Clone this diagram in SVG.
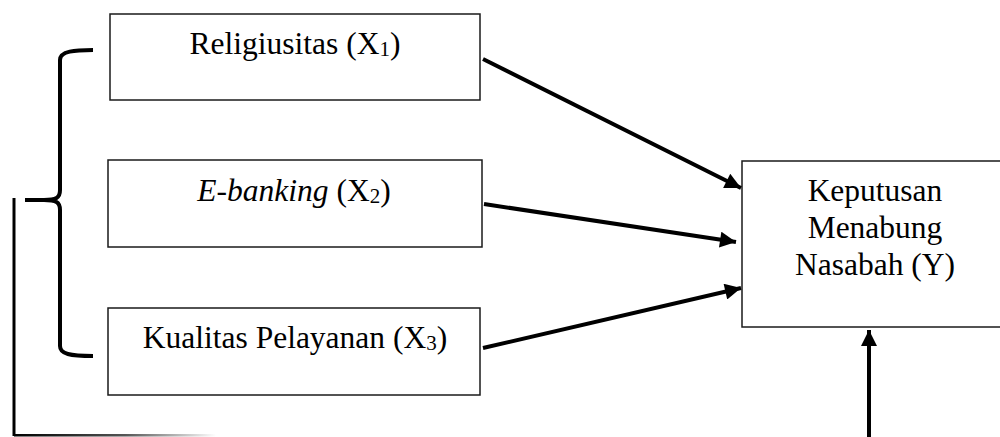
<svg xmlns="http://www.w3.org/2000/svg" width="1000" height="437" viewBox="0 0 1000 437">
  <style>
    .box { fill: #ffffff; stroke: #1a1a1a; stroke-width: 1.5; }
    .lbl { font-family: "Liberation Serif", "Times New Roman", "DejaVu Serif", serif; font-size: 31.5px; fill: #000000; text-anchor: middle; }
    .sub { font-size: 21px; }
    .conn { stroke: #000000; stroke-width: 4; fill: none; }
    .brace { stroke: #000000; stroke-width: 4; fill: none; stroke-linecap: butt; }
  </style>
  <defs>
    <marker id="arrow" viewBox="0 0 10 10" refX="10" refY="5" markerWidth="4.6" markerHeight="4" markerUnits="strokeWidth" orient="auto">
      <path d="M0,0 L10,5 L0,10 Z" fill="#000000"/>
    </marker>
    <linearGradient id="fade" x1="0" y1="0" x2="1" y2="0">
      <stop offset="0" stop-color="#000000"/>
      <stop offset="0.55" stop-color="#555555"/>
      <stop offset="1" stop-color="#ffffff"/>
    </linearGradient>
  </defs>

  <g id="x1">
    <rect class="box" x="110" y="14" width="370" height="86"/>
    <text class="lbl" x="295" y="54">Religiusitas (X<tspan class="sub" dy="2">1</tspan><tspan dy="-2">)</tspan></text>
  </g>

  <g id="x2">
    <rect class="box" x="108" y="160" width="374" height="87"/>
    <text class="lbl" x="294" y="201"><tspan font-style="italic">E-banking</tspan> (X<tspan class="sub" dy="2">2</tspan><tspan dy="-2">)</tspan></text>
  </g>

  <g id="x3">
    <rect class="box" x="108" y="308" width="372" height="87"/>
    <text class="lbl" x="295" y="348">Kualitas Pelayanan (X<tspan class="sub" dy="2">3</tspan><tspan dy="-2">)</tspan></text>
  </g>

  <g id="y">
    <rect class="box" x="742" y="161" width="270" height="166"/>
    <text class="lbl" x="875" y="201">Keputusan</text>
    <text class="lbl" x="875" y="238">Menabung</text>
    <text class="lbl" x="875" y="275">Nasabah (Y)</text>
  </g>

  <g id="connectors">
    <line class="conn" x1="483" y1="59" x2="741" y2="188" marker-end="url(#arrow)"/>
    <line class="conn" x1="484" y1="204" x2="736" y2="242" marker-end="url(#arrow)"/>
    <line class="conn" x1="483" y1="348" x2="741" y2="288" marker-end="url(#arrow)"/>
    <line class="conn" x1="869" y1="437" x2="869" y2="330" marker-end="url(#arrow)"/>
    <!-- brace grouping the three variables -->
    <path class="brace" d="M93,50 C75,50 60,51 60,60 L60,190 C60,198 56,200 44,200 L25,200 M44,200 C56,200 60,202 60,210 L60,346 C60,354 70,356 93,356"/>
    <!-- joint path from the brace down and across the bottom -->
    <line x1="14" y1="198" x2="14" y2="436" stroke="#000000" stroke-width="3"/>
    <rect x="14" y="434" width="202" height="2.5" fill="url(#fade)"/>
  </g>
</svg>
